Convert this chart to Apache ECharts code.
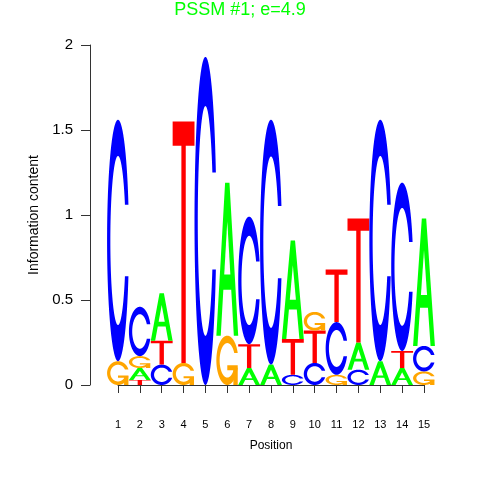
<!DOCTYPE html>
<html>
<head>
<meta charset="utf-8">
<script src="https://cdn.jsdelivr.net/npm/echarts@6/dist/echarts.min.js"></script>
<style>html,body{margin:0;padding:0;background:#fff}#chart{width:480px;height:480px}</style>
</head>
<body>
<div id="chart"></div>
<script>
const positions = [1,2,3,4,5,6,7,8,9,10,11,12,13,14,15];
const tickLabelsY = ['0','0.5','1','1.5','2'];
// stacking order per position, bottom to top
const stackOrder = ['GC','TAGC','CTA','GT','C','GA','ATC','AC','CTA','CTG','GCT','CAT','AC','ATC','GCA'];
// information content (bits) of each letter at each position
const heightA = [0,    0.07, 0.28, 0,    0,    0.90, 0.10, 0.12, 0.58, 0,    0,    0.16, 0.14, 0.10, 0.75];
const heightC = [1.42, 0.29, 0.12, 0,    1.93, 0,    0.75, 1.44, 0.06, 0.13, 0.31, 0.09, 1.42, 0.99, 0.15];
const heightG = [0.14, 0.07, 0,    0.13, 0,    0.29, 0,    0,    0,    0.11, 0.06, 0,    0,    0,    0.08];
const heightT = [0,    0.03, 0.14, 1.42, 0,    0,    0.14, 0,    0.21, 0.19, 0.31, 0.73, 0,    0.10, 0];

const letterHeights = {A: heightA, C: heightC, G: heightG, T: heightT};
const letterColors = {A: '#00FF00', C: '#0000FF', G: '#FFA500', T: '#FF0000'};
const letterList = ['A','C','G','T'];

// ---- glyph outlines in a unit box (seqLogo style) ----
function seq(a, b, n) { const r = []; for (let i = 0; i < n; i++) r.push(a + (b - a) * i / (n - 1)); return r; }
function ringC() {
  const a1 = seq(0.3 + Math.PI / 2, Math.PI, 100), a2 = seq(Math.PI, 1.5 * Math.PI, 100);
  const xl = [], yl = [];
  a1.concat(a2).forEach(a => { xl.push(0.5 + 0.5 * Math.sin(a)); yl.push(0.5 + 0.5 * Math.cos(a)); });
  const maxY1 = Math.max(...a1.map(a => 0.5 + 0.5 * Math.cos(a)));
  const r1 = Math.max(...a1.map(a => 0.5 + 0.5 * Math.sin(a)));
  const xi = [], yi = [];
  a1.forEach(a => { const y = 0.5 + 0.35 * Math.cos(a); if (y <= maxY1) { xi.push(0.5 + 0.35 * Math.sin(a)); yi.push(y); } });
  yi[0] = maxY1;
  a2.forEach(a => { xi.push(0.5 + 0.35 * Math.sin(a)); yi.push(0.5 + 0.35 * Math.cos(a)); });
  const pts = [];
  for (let i = 0; i < xl.length; i++) pts.push([xl[i], yl[i]]);
  for (let i = xl.length - 1; i >= 0; i--) pts.push([xl[i], 1 - yl[i]]);
  const inner = [];
  for (let i = 0; i < xi.length; i++) inner.push([xi[i], yi[i]]);
  for (let i = xi.length - 1; i >= 0; i--) inner.push([xi[i], 1 - yi[i]]);
  for (let i = inner.length - 1; i >= 0; i--) pts.push(inner[i]);
  return {pts, r1};
}
const cShape = ringC();
const glyphs = {
  A: [
    {pts: [[0,0],[0.4,1],[0.6,1],[1,0],[0.8,0],[0.68,0.3],[0.32,0.3],[0.2,0]], hole: false},
    {pts: [[0.36,0.4],[0.5,0.75],[0.64,0.4]], hole: true}
  ],
  C: [{pts: cShape.pts, hole: false}],
  G: [
    {pts: cShape.pts, hole: false},
    {pts: [[cShape.r1,0.4],[0.5,0.4],[0.5,0.3],[cShape.r1-0.2,0.3],[cShape.r1-0.2,0],[cShape.r1,0]], hole: false}
  ],
  T: [{pts: [[0,1],[1,1],[1,0.9],[0.6,0.9],[0.6,0],[0.4,0],[0.4,0.9],[0,0.9]], hole: false}]
};

// ---- build stacked letter items ----
const items = [];
positions.forEach((p, i) => {
  let base = 0;
  stackOrder[i].split('').forEach(L => {
    const h = letterHeights[L][i];
    if (h > 0) { items.push([p, base, h, letterList.indexOf(L)]); base += h; }
  });
});

const FONT = 'Liberation Sans, Arial, Helvetica, sans-serif';
const chart = echarts.init(document.getElementById('chart'), null, {renderer: 'canvas'});
chart.setOption({
  animation: false,
  backgroundColor: '#fff',
  title: {
    text: 'PSSM #1; e=4.9', left: 'center', top: 1, padding: 0,
    textStyle: {color: '#00FF00', fontSize: 18, fontWeight: 'normal', fontFamily: FONT}
  },
  grid: {left: 118, right: 56, top: 45, bottom: 95},
  xAxis: {
    type: 'value', min: 1, max: 15, interval: 1, offset: 16,
    name: 'Position', nameLocation: 'middle', nameGap: 39,
    nameTextStyle: {color: '#000', fontSize: 12, fontFamily: FONT},
    axisLine: {show: true, lineStyle: {color: '#333', width: 1}},
    axisTick: {show: true, length: 8, lineStyle: {color: '#333'}},
    axisLabel: {color: '#000', fontSize: 11, fontFamily: FONT, margin: 18},
    splitLine: {show: false}
  },
  yAxis: {
    type: 'value', min: 0, max: 2, interval: 0.5, offset: 28,
    name: 'Information content', nameLocation: 'middle', nameGap: 44,
    nameTextStyle: {color: '#000', fontSize: 14, fontFamily: FONT},
    axisLine: {show: true, lineStyle: {color: '#333', width: 1}},
    axisTick: {show: true, length: 9, lineStyle: {color: '#333'}},
    axisLabel: {color: '#000', fontSize: 15, fontFamily: FONT, margin: 17,
      formatter: v => tickLabelsY[Math.round(v / 0.5)]},
    splitLine: {show: false}
  },
  series: [{
    type: 'custom',
    clip: false,
    data: items,
    renderItem: function (params, api) {
      const pos = api.value(0), base = api.value(1), h = api.value(2);
      const L = letterList[api.value(3)];
      const toPx = (ux, uy) => api.coord([pos - 0.5 + ux, base + uy * h]);
      return {
        type: 'group',
        children: glyphs[L].map(g => ({
          type: 'polygon',
          shape: {points: g.pts.map(p => toPx(p[0], p[1]))},
          style: {fill: g.hole ? '#ffffff' : letterColors[L], stroke: null}
        }))
      };
    }
  }]
});
</script>
</body>
</html>
